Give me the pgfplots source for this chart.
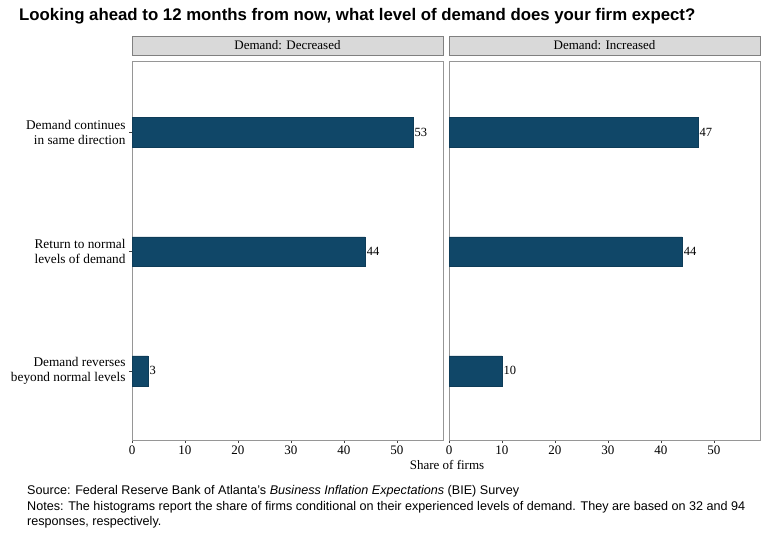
\documentclass[border=0pt]{standalone}
\usepackage{pgfplots}
\pgfplotsset{compat=1.18}
\usepackage{fontspec}
\setmainfont{Liberation Serif}
\newfontfamily\arial{Liberation Sans}

\definecolor{barblue}{RGB}{16,71,104}
\definecolor{strip}{RGB}{217,217,217}
\definecolor{framegray}{RGB}{150,150,150}

\pgfplotsset{
  panel/.style={
    scale only axis, width=311pt, height=379pt,
    xbar, bar width=0.25,
    xmin=0, xmax=58.7, ymin=0.42, ymax=3.6,
    xtick={0,10,...,50}, ytick={1,2,3},
    tick align=outside, tick pos=left, major tick length=3pt,
    axis line style={draw=framegray},
    tick style={black!75, line width=0.5pt},
    /pgf/number format/assume math mode=true,
    ticklabel style={font=\fontsize{13}{15}\selectfont},
    xticklabel style={yshift=1pt},
    title style={at={(0.5,1)}, anchor=south, fill=strip, draw=gray,
      minimum width=311pt, minimum height=19pt, inner sep=0pt,
      font=\fontsize{13}{15}\selectfont},
    nodes near coords,
    every node near coord/.append style={font=\fontsize{12.5}{14}\selectfont,
      inner sep=1.5pt, black},
  },
}

\begin{document}
\begin{tikzpicture}
\path[use as bounding box] (0,0) rectangle (775pt,-535pt);

\node[anchor=west, inner sep=0pt, font=\arial\bfseries\fontsize{16.8}{19}\selectfont]
  at (19pt,-16pt) {Looking ahead to 12 months from now, what level of demand does your firm expect?};

% Firms that saw demand decrease
\begin{axis}[panel, at={(132pt,-440pt)}, anchor=south west,
  title={Demand: Decreased},
  yticklabels={{Demand reverses\\beyond normal levels},
               {Return to normal\\levels of demand},
               {Demand continues\\in same direction}},
  yticklabel style={align=right, font=\fontsize{13.3}{14.5}\selectfont},
]
\addplot[fill=barblue, draw=barblue!85!black] coordinates {(53,3) (44,2) (3,1)};
\end{axis}

% Firms that saw demand increase
\begin{axis}[panel, at={(449pt,-440pt)}, anchor=south west,
  title={Demand: Increased},
  ytick=\empty,
]
\addplot[fill=barblue, draw=barblue!85!black] coordinates {(47,3) (44,2) (10,1)};
\end{axis}

\node[font=\fontsize{13}{15}\selectfont] at (447pt,-465pt) {Share of firms};

\begin{scope}[every node/.style={anchor=west, inner sep=0pt,
    font=\arial\fontsize{12.6}{14}\selectfont}]
\node at (27pt,-491pt) {Source: Federal Reserve Bank of Atlanta’s \textit{Business Inflation Expectations} (BIE) Survey};
\node at (27pt,-507pt) {Notes: The histograms report the share of firms conditional on their experienced levels of demand. They are based on 32 and 94};
\node at (27pt,-522pt) {responses, respectively.};
\end{scope}
\end{tikzpicture}
\end{document}
